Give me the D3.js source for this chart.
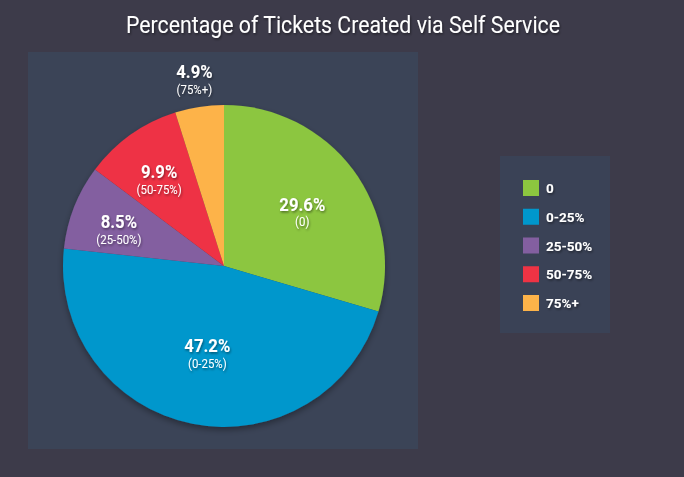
<!DOCTYPE html>
<html lang="en">
    <head>
        <meta charset="utf-8">
        <title>Percentage of Tickets Created via Self Service</title>
        <script type="text/javascript" src="https://d3js.org/d3.v7.min.js"></script>
        <style type="text/css">
            body {
                margin: 0;
                background: #3d3b4a;
            }
            text {
                font-family: Roboto, "Noto Sans", sans-serif;
                fill: #ffffff;
            }
            .title {
                font-size: 24px;
            }
            .pct {
                font-size: 19px;
                font-weight: bold;
            }
            .sub {
                font-size: 13px;
            }
            .legend text {
                font-size: 13.5px;
                font-weight: bold;
            }
        </style>
    </head>

    <body>
        <script type="text/javascript">

            // data
            const categories = ["0", "0-25%", "25-50%", "50-75%", "75%+"];
            const values = [29.6, 47.2, 8.5, 9.9, 4.9];
            const colors = ["#8cc63f", "#0097cc", "#835fa0", "#ee3344", "#fdb349"];

            const svgW = 684;
            const svgH = 477;

            const svg = d3.select("body")
                .append("svg")
                .attr("width", svgW)
                .attr("height", svgH);

            // shadows
            const defs = svg.append("defs");
            const ts = defs.append("filter").attr("id", "tshadow")
                .attr("x", "-20%").attr("y", "-20%").attr("width", "140%").attr("height", "140%");
            ts.append("feDropShadow").attr("dx", 1).attr("dy", 1.5)
                .attr("stdDeviation", 1).attr("flood-color", "#000").attr("flood-opacity", 0.45);
            const ps = defs.append("filter").attr("id", "pshadow")
                .attr("x", "-10%").attr("y", "-10%").attr("width", "120%").attr("height", "125%");
            ps.append("feDropShadow").attr("dx", 0).attr("dy", 3)
                .attr("stdDeviation", 3).attr("flood-color", "#000").attr("flood-opacity", 0.35);

            // title
            svg.append("text")
                .attr("class", "title")
                .attr("x", 343)
                .attr("y", 33)
                .attr("text-anchor", "middle")
                .attr("textLength", 434)
                .attr("lengthAdjust", "spacingAndGlyphs")
                .attr("filter", "url(#tshadow)")
                .text("Percentage of Tickets Created via Self Service");

            // chart panel
            svg.append("rect")
                .attr("x", 28).attr("y", 52)
                .attr("width", 390).attr("height", 397)
                .attr("fill", "#3b4457");

            // pie
            const cx = 224, cy = 266, R = 161;
            const pie = d3.pie().sort(null).value(d => d);
            const arcs = pie(values);
            const arc = d3.arc().innerRadius(0).outerRadius(R);

            const g = svg.append("g")
                .attr("transform", "translate(" + cx + "," + cy + ")");

            g.append("g")
                .attr("filter", "url(#pshadow)")
                .selectAll("path")
                .data(arcs)
                .enter()
                .append("path")
                .attr("d", arc)
                .attr("fill", (d, i) => colors[i]);

            // label positions: smaller slices push the label further out,
            // tiny slices get the label outside the pie
            function labelPos(d) {
                const share = (d.endAngle - d.startAngle) / (2 * Math.PI);
                let r = R * (0.74 - share * 0.45);
                if (share < 0.06) r = R * 1.2;
                const a = (d.startAngle + d.endAngle) / 2;
                return [Math.sin(a) * r, -Math.cos(a) * r];
            }

            const labels = g.selectAll(".lbl")
                .data(arcs)
                .enter()
                .append("g")
                .attr("class", "lbl")
                .attr("filter", "url(#tshadow)")
                .attr("transform", d => "translate(" + labelPos(d) + ") scale(0.88,1)");

            labels.append("text")
                .attr("class", "pct")
                .attr("text-anchor", "middle")
                .attr("y", 3)
                .text(d => d.data.toFixed(1) + "%");

            labels.append("text")
                .attr("class", "sub")
                .attr("text-anchor", "middle")
                .attr("y", 19)
                .text((d, i) => "(" + categories[i] + ")");

            // legend
            const legend = svg.append("g").attr("class", "legend");
            legend.append("rect")
                .attr("x", 500).attr("y", 156)
                .attr("width", 110).attr("height", 177)
                .attr("fill", "#3a4256");

            const rowY = d3.scalePoint()
                .domain(categories)
                .range([180, 295]);

            const rows = legend.selectAll(".row")
                .data(categories)
                .enter()
                .append("g")
                .attr("class", "row")
                .attr("transform", d => "translate(523," + rowY(d) + ")");

            rows.append("rect")
                .attr("width", 16).attr("height", 16)
                .attr("fill", (d, i) => colors[i]);

            rows.append("text")
                .attr("x", 23)
                .attr("y", 13)
                .attr("filter", "url(#tshadow)")
                .text(d => d);

        </script>
    </body>
</html>
